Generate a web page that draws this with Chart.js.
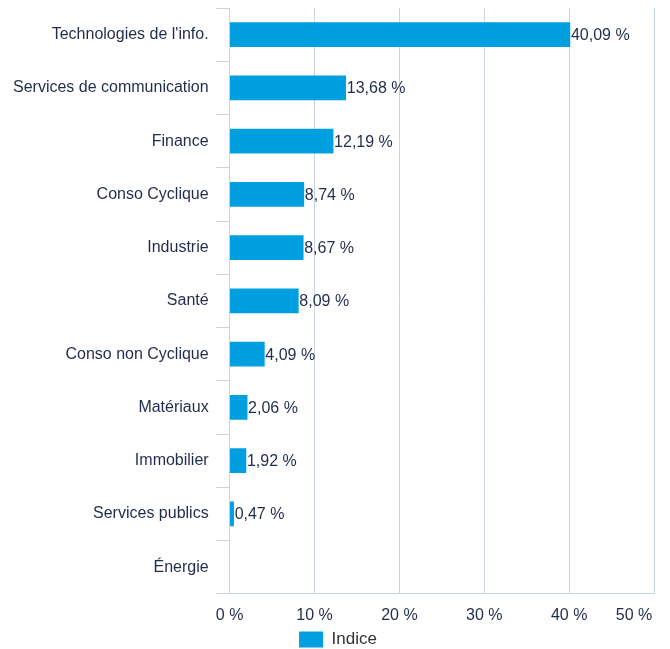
<!DOCTYPE html>
<html>
<head>
<meta charset="utf-8">
<script src="https://cdn.jsdelivr.net/npm/chart.js@4/dist/chart.umd.min.js"></script>
<style>
  html, body { margin: 0; padding: 0; background: #fff; }
  #wrap { width: 670px; height: 649px; }
</style>
</head>
<body>
<div id="wrap"><canvas id="sectorChart"></canvas></div>
<script>
// secteurs
const sectors = [
  "Technologies de l'info.",
  "Services de communication",
  "Finance",
  "Conso Cyclique",
  "Industrie",
  "Santé",
  "Conso non Cyclique",
  "Matériaux",
  "Immobilier",
  "Services publics",
  "Énergie"
];
// poids indice (%)
const indexWeights = [40.09, 13.68, 12.19, 8.74, 8.67, 8.09, 4.09, 2.06, 1.92, 0.47, null];
const xTicks = [0, 10, 20, 30, 40, 50];

const navy = "#1f2c4c";
const gridCol = "#c9d5e7";
const blue = "#009fe0";
const fam = "'Liberation Sans', Arial, sans-serif";

// étiquettes de valeur au bout des barres
const valueLabels = {
  id: "valueLabels",
  afterDatasetsDraw(chart) {
    const ctx = chart.ctx;
    const meta = chart.getDatasetMeta(0);
    ctx.save();
    ctx.font = "16px " + fam;
    ctx.fillStyle = navy;
    ctx.textBaseline = "middle";
    ctx.textAlign = "left";
    meta.data.forEach((bar, i) => {
      const v = indexWeights[i];
      if (v == null) return;
      ctx.fillText(v.toFixed(2).replace(".", ",") + " %", bar.x + 1, bar.y + 1);
    });
    ctx.restore();
  }
};

new Chart(document.getElementById("sectorChart").getContext("2d"), {
  type: "bar",
  data: {
    labels: sectors,
    datasets: [{
      label: "Indice",
      data: indexWeights,
      backgroundColor: blue,
      borderWidth: 0,
      barThickness: 24
    }]
  },
  options: {
    indexAxis: "y",
    responsive: true,
    maintainAspectRatio: false,
    animation: false,
    layout: { padding: { top: 8, left: 6, right: 0, bottom: -9 } },
    plugins: {
      legend: {
        position: "bottom",
        labels: {
          boxWidth: 24,
          boxHeight: 16,
          padding: 0,
          color: "#333",
          font: { size: 17, family: fam }
        }
      },
      tooltip: { enabled: false }
    },
    scales: {
      x: {
        min: 0,
        max: 50,
        afterBuildTicks: (axis) => { axis.ticks = xTicks.map(v => ({ value: v })); },
        afterFit: (axis) => { axis.paddingRight = 16; axis.height += 6; },
        grid: { color: gridCol, drawTicks: true, tickLength: 12, tickColor: "transparent", lineWidth: 1 },
        border: { color: gridCol },
        ticks: {
          padding: 0,
          maxRotation: 0,
          autoSkip: false,
          color: navy,
          font: { size: 16, family: fam },
          // dernier libellé décalé vers la gauche pour rester dans le cadre
          callback: (v) => v === 50 ? v + " %         " : v + " %"
        }
      },
      y: {
        afterFit: (axis) => { axis.paddingTop = 0; axis.paddingBottom = 0; },
        grid: { color: gridCol, drawOnChartArea: false, drawTicks: true, tickLength: 14, offset: true },
        border: { display: false },
        ticks: {
          padding: 7,
          color: navy,
          font: { size: 16, family: fam }
        }
      }
    }
  },
  plugins: [valueLabels]
});
</script>
</body>
</html>
